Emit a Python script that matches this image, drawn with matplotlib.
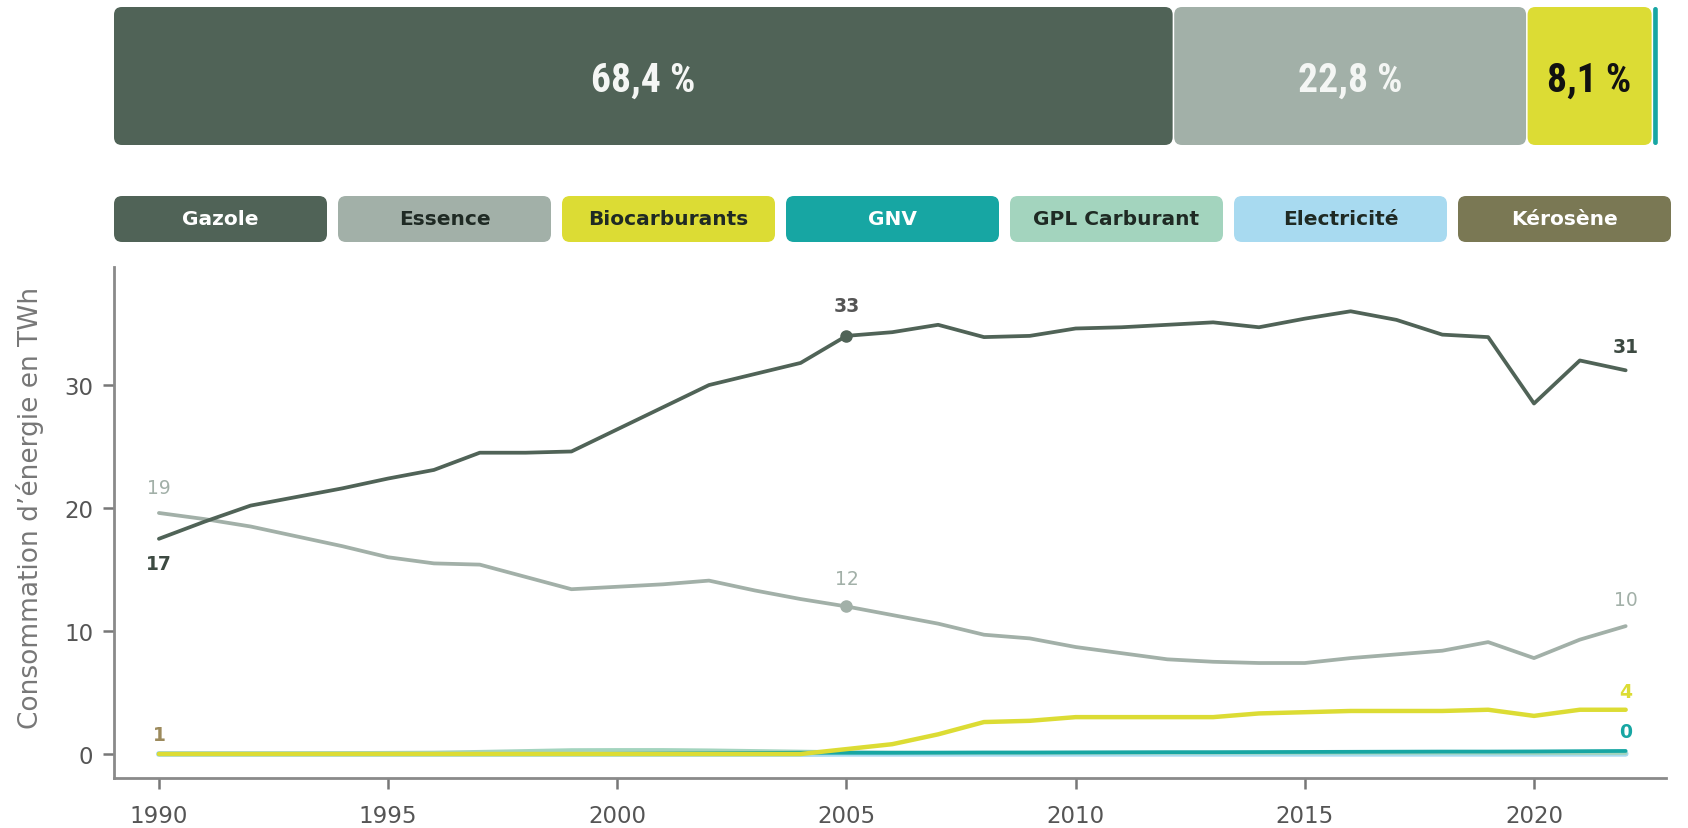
import matplotlib
matplotlib.use('Agg')
import matplotlib.pyplot as plt
from matplotlib.patches import FancyBboxPatch
from matplotlib import font_manager

plt.rcParams['font.family'] = ['DejaVu Sans']

######################################################

## Data

years = list(range(1990, 2023))

gazole = [17.5, 18.9, 20.2, 20.9, 21.6, 22.4, 23.1, 24.5, 24.5, 24.6, 26.4, 28.2,
          30.0, 30.9, 31.8, 34.0, 34.3, 34.9, 33.9, 34.0, 34.6, 34.7, 34.9, 35.1,
          34.7, 35.4, 36.0, 35.3, 34.1, 33.9, 28.5, 32.0, 31.2]
essence = [19.6, 19.1, 18.5, 17.7, 16.9, 16.0, 15.5, 15.4, 14.4, 13.4, 13.6, 13.8,
           14.1, 13.3, 12.6, 12.0, 11.3, 10.6, 9.7, 9.4, 8.7, 8.2, 7.7, 7.5,
           7.4, 7.4, 7.8, 8.1, 8.4, 9.1, 7.8, 9.3, 10.4]
biocarburants = [0.0] * 15 + [0.4, 0.8, 1.6, 2.6, 2.7, 3.0, 3.0, 3.0, 3.0,
                              3.3, 3.4, 3.5, 3.5, 3.5, 3.6, 3.1, 3.6, 3.6]
gnv = [0.0] * 10 + [0.02, 0.04, 0.06, 0.08, 0.1, 0.1, 0.1, 0.11, 0.12, 0.12,
                    0.13, 0.14, 0.15, 0.15, 0.16, 0.17, 0.18, 0.19, 0.2, 0.2,
                    0.21, 0.23, 0.25]
gpl = [0.05, 0.05, 0.05, 0.06, 0.08, 0.1, 0.12, 0.18, 0.25, 0.32, 0.33, 0.33,
       0.3, 0.25, 0.2, 0.15, 0.12, 0.1, 0.1, 0.1, 0.1, 0.1, 0.1, 0.1,
       0.1, 0.1, 0.1, 0.1, 0.1, 0.1, 0.08, 0.08, 0.08]
electricite = [0.0] * 15 + [0.02] * 18
kerosene = [0.0] * 33

categories = ['Gazole', 'Essence', 'Biocarburants', 'GNV', 'GPL Carburant', 'Electricité', 'Kérosène']
shares = [68.4, 22.8, 8.1, 0.4, 0.1, 0.1, 0.1]
share_labels = ['68,4 %', '22,8 %', '8,1 %', '', '', '', '']

colors = ['#506357', '#A2B0A8', '#DCDC34', '#17A6A3', '#A3D4BE', '#A8DAF0', '#7A7854']
text_colors = ['white', '#1f2a24', '#1f2a24', 'white', '#1f2a24', '#1f2a24', 'white']

######################################################

# condensed font for the percentages, whatever is there
names = set(f.name for f in font_manager.fontManager.ttflist)
cond_font = 'DejaVu Sans'
for n in ['Liberation Sans Narrow', 'Roboto Condensed', 'Open Sans Condensed']:
	if n in names:
		cond_font = n
		break
cond_size = 28.5 if cond_font != 'DejaVu Sans' else 24

W, H = 1688, 829
fig = plt.figure(figsize=(W / 100, H / 100), dpi=100)

# Top stacked bar

bx0, bx1, by0, by1 = 114, 1664, 8, 146
axb = fig.add_axes([bx0 / W, 1 - by1 / H, (bx1 - bx0) / W, (by1 - by0) / H])
bh = 100 * (by1 - by0) / (bx1 - bx0)
px = bh / (by1 - by0)   # one pixel in data units
axb.set_xlim(0, 100)
axb.set_ylim(0, bh)
axb.axis('off')

left = 0
gap = 0.1
for i in range(len(shares)):
	w = shares[i] - gap
	r = min(0.5, w / 2)
	p = FancyBboxPatch((left, 0), w, bh, boxstyle='round,pad=0,rounding_size=%f' % r,
	                   fc=colors[i], ec='none')
	axb.add_patch(p)
	if share_labels[i]:
		axb.text(left + w / 2, bh / 2 - 4 * px, share_labels[i], ha='center', va='center',
		         fontsize=cond_size, fontweight='bold', fontstretch='condensed',
		         color='#111111' if i == 2 else '#f4f6f4', family=[cond_font, 'DejaVu Sans'])
	left += shares[i]

# Legend boxes

lx0, lx1, ly0, ly1 = 114, 1671, 197, 243
axl = fig.add_axes([lx0 / W, 1 - ly1 / H, (lx1 - lx0) / W, (ly1 - ly0) / H])
axl.set_xlim(0, lx1 - lx0)
axl.set_ylim(0, ly1 - ly0)
axl.axis('off')
bw = 213
bg = ((lx1 - lx0) - 7 * bw) / 6
for i in range(len(categories)):
	x = i * (bw + bg)
	p = FancyBboxPatch((x, 0), bw, ly1 - ly0, boxstyle='round,pad=0,rounding_size=8',
	                   fc=colors[i], ec='none')
	axl.add_patch(p)
	axl.text(x + bw / 2, (ly1 - ly0) / 2, categories[i], ha='center', va='center',
	         fontsize=14.5, fontweight='bold', color=text_colors[i])

# Line chart

cx0, cx1, cy0, cy1 = 114, 1666, 268, 779
ax = fig.add_axes([cx0 / W, 1 - cy1 / H, (cx1 - cx0) / W, (cy1 - cy0) / H])

lw = 2.7
ax.plot(years, kerosene, color=colors[6], lw=lw, solid_capstyle='round', zorder=2)
ax.plot(years, electricite, color=colors[5], lw=lw + 1.5, solid_capstyle='round', zorder=2)
ax.plot(years, gpl, color=colors[4], lw=lw, solid_capstyle='round', zorder=2)
ax.plot(years, gnv, color=colors[3], lw=lw, solid_capstyle='round', zorder=3)
ax.plot(years, biocarburants, color=colors[2], lw=lw + 0.5, solid_capstyle='round', zorder=4)
ax.plot(years, essence, color=colors[1], lw=lw, solid_capstyle='round', zorder=5)
ax.plot(years, gazole, color=colors[0], lw=lw, solid_capstyle='round', zorder=6)

i05 = years.index(2005)
ax.plot(years[i05], gazole[i05], 'o', color=colors[0], ms=8, zorder=7)
ax.plot(years[i05], essence[i05], 'o', color=colors[1], ms=8, zorder=7)

# Value labels
def lab(x, y, s, c, dy, bold=True):
	ax.annotate(s, (x, y), xytext=(0, dy), textcoords='offset points', ha='center',
	            va='center', fontsize=13.5, color=c, fontweight='bold' if bold else 'normal', zorder=8)

lab(1990, gazole[0], '17', '#3d4a42', -18)
lab(1990, essence[0], '19', '#A2B0A8', 18, False)
lab(2005, gazole[i05], '33', '#555555', 22)
lab(2005, essence[i05], '12', '#A2B0A8', 20, False)
lab(2022, gazole[-1], '31', '#3d4a42', 17)
lab(2022, essence[-1], '10', '#A2B0A8', 19, False)
lab(2022, biocarburants[-1], '4', '#DCDC34', 13)
lab(2022, gnv[-1], '0', '#17A6A3', 14)
lab(1990, kerosene[0], '1', '#9C8A5C', 14)

ax.set_xlim(1989.02, 2022.88)
ax.set_ylim(-1.95, 39.6)
ax.set_xticks(range(1990, 2021, 5))
ax.set_yticks([0, 10, 20, 30])
for s in ['top', 'right']:
	ax.spines[s].set_visible(False)
for s in ['left', 'bottom']:
	ax.spines[s].set_color('#8a8a8a')
	ax.spines[s].set_linewidth(2)
ax.tick_params(length=8, width=1.8, color='#777777', labelsize=16.5, labelcolor='#555555')
ax.tick_params(axis='x', pad=11)
ax.tick_params(axis='y', pad=7)
ax.set_ylabel("Consommation d\u2019énergie en TWh", fontsize=19, color='#777777')
ax.yaxis.set_label_coords(-0.045, 0.53)

plt.savefig('out.png', dpi=100)
